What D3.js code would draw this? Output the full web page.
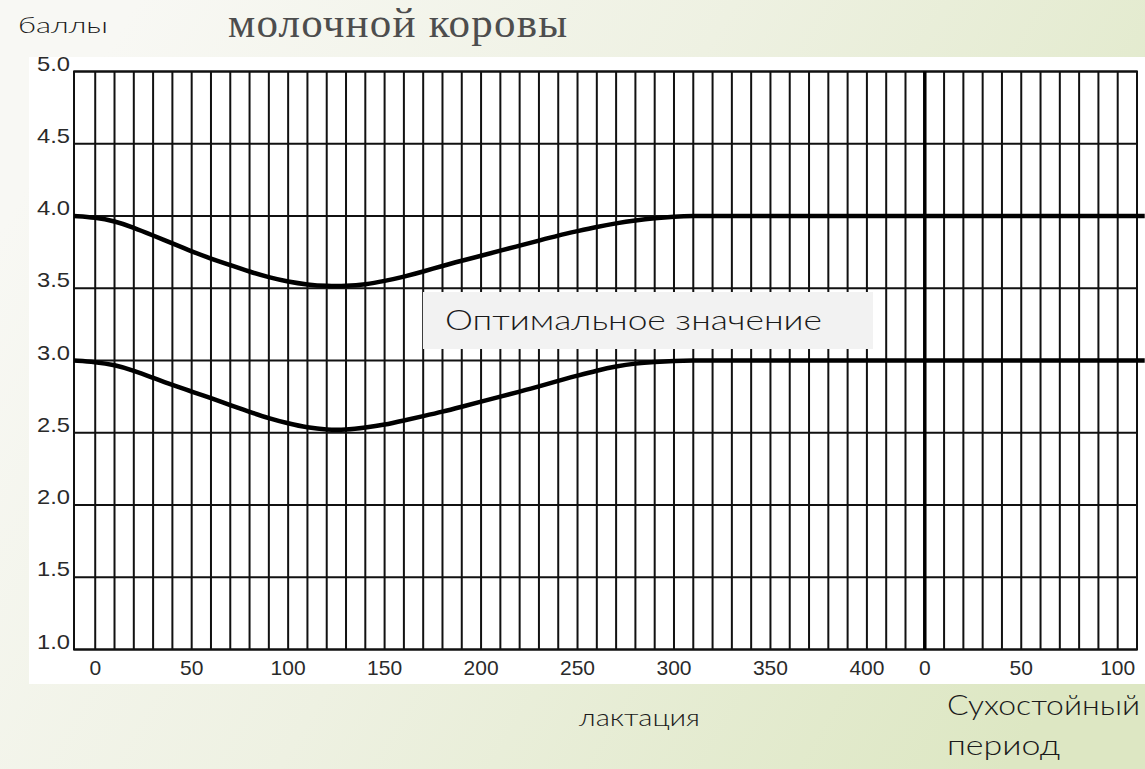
<!DOCTYPE html>
<html>
<head>
<meta charset="utf-8">
<script src="https://cdn.jsdelivr.net/npm/d3@7"></script>
<style>
  html, body { margin: 0; padding: 0; overflow: hidden; }
  svg { display: block; }
</style>
</head>
<body>
<svg id="chart"></svg>
<script>
// days of lactation (dry period continues after day 430)
const days = [-11, 0, 10, 20, 30, 40, 50, 60, 70, 80, 90, 100, 110, 120, 130, 140, 150, 160, 170,
    180, 190, 200, 210, 220, 230, 240, 250, 260, 270, 280, 290, 300, 310, 320, 544];
const upperValues = [4.0, 3.99, 3.965, 3.92, 3.865, 3.81, 3.755, 3.705, 3.66, 3.615, 3.575, 3.545, 3.525, 3.515, 3.515,
    3.525, 3.55, 3.58, 3.615, 3.655, 3.69, 3.725, 3.76, 3.795, 3.83, 3.865, 3.895, 3.925, 3.95, 3.97, 3.985, 3.995, 4.0, 4.0, 4.0];
const lowerValues = [3.0, 2.99, 2.97, 2.93, 2.88, 2.83, 2.785, 2.74, 2.69, 2.645, 2.6, 2.565, 2.535, 2.52, 2.52,
    2.535, 2.555, 2.585, 2.615, 2.645, 2.68, 2.715, 2.75, 2.785, 2.82, 2.86, 2.895, 2.93, 2.96, 2.98, 2.99, 2.997, 3.0, 3.0, 3.0];
const yTicks = ['1.0', '1.5', '2.0', '2.5', '3.0', '3.5', '4.0', '4.5', '5.0'];
const lactationTicks = [0, 50, 100, 150, 200, 250, 300, 350, 400];
const dryTicks = [0, 50, 100];
const dryStart = 430;

const width = 1145, height = 769;
const slideFont = 'Lato, "Noto Sans", sans-serif';
const chartFont = '"Liberation Sans", Arial, sans-serif';

const svg = d3.select('#chart')
    .attr('width', width)
    .attr('height', height);

// slide background
const defs = svg.append('defs');
const grad = defs.append('linearGradient')
    .attr('id', 'bg')
    .attr('x1', '0%').attr('y1', '30%')
    .attr('x2', '100%').attr('y2', '70%');
grad.append('stop').attr('offset', '0%').attr('stop-color', '#f8f8f4');
grad.append('stop').attr('offset', '45%').attr('stop-color', '#eef1e2');
grad.append('stop').attr('offset', '100%').attr('stop-color', '#dde7c3');

svg.append('rect')
    .attr('width', width)
    .attr('height', height)
    .attr('fill', 'url(#bg)');

// title + unit label
svg.append('text')
    .attr('x', 228)
    .attr('y', 37)
    .style('font-family', '"Liberation Serif"')
    .style('font-size', '43px')
    .style('font-weight', 400)
    .style('letter-spacing', '1.2px')
    .attr('fill', '#4d4d4d')
    .text('молочной коровы');

svg.append('text')
    .attr('x', 18)
    .attr('y', 33)
    .attr('font-family', slideFont)
    .attr('font-size', 22)
    .attr('font-weight', 300)
    .attr('fill', '#1a1a1a')
    .attr('textLength', 90)
    .attr('lengthAdjust', 'spacingAndGlyphs')
    .text('баллы');

// white picture area
svg.append('rect')
    .attr('x', 29)
    .attr('y', 57)
    .attr('width', width - 29)
    .attr('height', 627)
    .attr('fill', '#ffffff');

const x = d3.scaleLinear().domain([-11, 540]).range([74, 1137]);
const y = d3.scaleLinear().domain([1, 5]).range([649.5, 71.5]);

const chart = svg.append('g');

// vertical grid
const vLines = d3.range(0, 540, 10).filter(d => d !== dryStart);
chart.selectAll('.vline')
    .data(vLines)
    .enter()
    .append('line')
        .attr('class', 'vline')
        .attr('x1', d => x(d)).attr('x2', d => x(d))
        .attr('y1', y(5)).attr('y2', y(1))
        .attr('stroke', '#111')
        .attr('stroke-width', 2);

// horizontal grid
chart.selectAll('.hline')
    .data(yTicks)
    .enter()
    .append('line')
        .attr('class', 'hline')
        .attr('x1', x(-11)).attr('x2', x(540))
        .attr('y1', d => y(+d)).attr('y2', d => y(+d))
        .attr('stroke', '#111')
        .attr('stroke-width', 2);

// frame
chart.append('rect')
    .attr('x', x(-11))
    .attr('y', y(5))
    .attr('width', x(540) - x(-11))
    .attr('height', y(1) - y(5))
    .attr('fill', 'none')
    .attr('stroke', '#111')
    .attr('stroke-width', 2);

// dry period divider
chart.append('line')
    .attr('x1', x(dryStart)).attr('x2', x(dryStart))
    .attr('y1', y(5)).attr('y2', y(1))
    .attr('stroke', '#000')
    .attr('stroke-width', 3.5);

// y labels
chart.selectAll('.ylabel')
    .data(yTicks)
    .enter()
    .append('text')
        .attr('class', 'ylabel')
        .attr('x', 70)
        .attr('y', d => y(+d) - 1)
        .attr('text-anchor', 'end')
        .attr('font-family', chartFont)
        .attr('font-size', 21)
        .attr('fill', '#2a2a2a')
        .attr('textLength', 33)
        .attr('lengthAdjust', 'spacingAndGlyphs')
        .text(d => d);

// x labels
const xLabels = lactationTicks.map(d => ({ pos: d, label: d }))
    .concat(dryTicks.map(d => ({ pos: dryStart + d, label: d })));

chart.selectAll('.xlabel')
    .data(xLabels)
    .enter()
    .append('text')
        .attr('class', 'xlabel')
        .attr('x', d => x(d.pos))
        .attr('y', 675)
        .attr('text-anchor', 'middle')
        .attr('font-family', chartFont)
        .attr('font-size', 21)
        .attr('fill', '#2a2a2a')
        .text(d => d.label);

// curves
const line = d3.line()
    .x(d => x(d[0]))
    .y(d => y(d[1]))
    .curve(d3.curveBasis);

[upperValues, lowerValues].forEach(values => {
    chart.append('path')
        .datum(days.map((d, i) => [d, values[i]]))
        .attr('d', line)
        .attr('fill', 'none')
        .attr('stroke', '#000')
        .attr('stroke-width', 4.5)
        .attr('stroke-linejoin', 'round');
});

// annotation box
svg.append('rect')
    .attr('x', 423)
    .attr('y', 292)
    .attr('width', 450)
    .attr('height', 57)
    .attr('fill', '#f2f2f2');

svg.append('text')
    .attr('x', 445)
    .attr('y', 330)
    .attr('font-family', slideFont)
    .attr('font-size', 27)
    .attr('font-weight', 300)
    .attr('fill', '#1a1a1a')
    .attr('textLength', 377)
    .attr('lengthAdjust', 'spacingAndGlyphs')
    .text('Оптимальное значение');

// axis captions
svg.append('text')
    .attr('x', 579)
    .attr('y', 726)
    .attr('font-family', slideFont)
    .attr('font-size', 24)
    .attr('font-weight', 300)
    .attr('fill', '#1a1a1a')
    .attr('textLength', 121)
    .attr('lengthAdjust', 'spacingAndGlyphs')
    .text('лактация');

svg.append('text')
    .attr('x', 947)
    .attr('y', 715)
    .attr('font-family', slideFont)
    .attr('font-size', 28)
    .attr('font-weight', 300)
    .attr('fill', '#1a1a1a')
    .attr('textLength', 193)
    .attr('lengthAdjust', 'spacingAndGlyphs')
    .text('Сухостойный');

svg.append('text')
    .attr('x', 947)
    .attr('y', 755)
    .attr('font-family', slideFont)
    .attr('font-size', 28)
    .attr('font-weight', 300)
    .attr('fill', '#1a1a1a')
    .attr('textLength', 113)
    .attr('lengthAdjust', 'spacingAndGlyphs')
    .text('период');
</script>
</body>
</html>
